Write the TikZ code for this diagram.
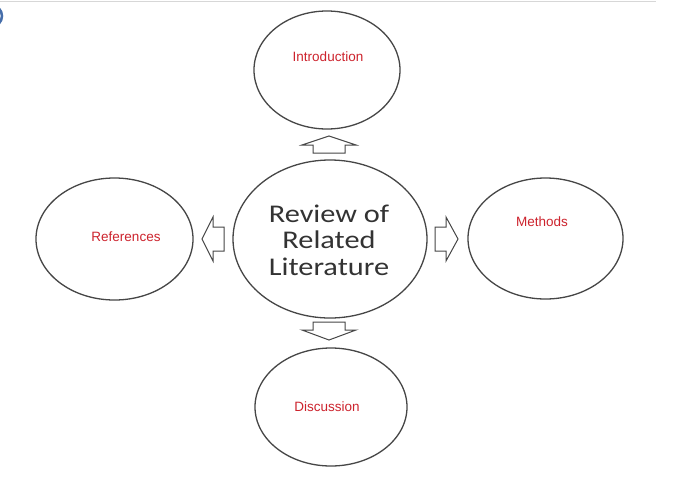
\documentclass[tikz,border=0pt]{standalone}
\usepackage{fontspec}
\setmainfont{Liberation Sans}
\newfontfamily\revfont[FakeStretch=1.19]{Carlito}
\usetikzlibrary{shapes.geometric}
\definecolor{linegray}{RGB}{70,70,70}
\definecolor{labelred}{RGB}{205,35,45}
\definecolor{edgeblue}{RGB}{70,110,170}
\definecolor{topgray}{RGB}{215,215,215}
\begin{document}
\begin{tikzpicture}[x=1pt,y=-1pt,
  bubble/.style={draw=linegray, line width=1.3pt, ellipse, inner sep=0pt},
  lab/.style={text=labelred, font=\fontsize{13.5}{16}\selectfont, inner sep=0pt},
  blockarrow/.style={draw=linegray, line width=1pt, fill=white, line join=miter}]
\useasboundingbox (0,0) rectangle (700,493);
\fill[white] (0,0) rectangle (700,493);
% top frame line and blue edge
\draw[topgray, line width=1pt] (0,1.5) -- (656,1.5);
\begin{scope}
\clip (0,0) rectangle (10,40);
\draw[edgeblue, line width=2.5pt] (-9,16) circle (11);
\end{scope}
% ellipses
\node[bubble, minimum width=194pt, minimum height=158pt] (center) at (330,239) {};
\node[bubble, minimum width=146pt, minimum height=118pt] (intro) at (327,70) {};
\node[bubble, minimum width=157pt, minimum height=122pt] (refs) at (114.5,239) {};
\node[bubble, minimum width=155pt, minimum height=121pt] (meth) at (545.5,238.5) {};
\node[bubble, minimum width=152pt, minimum height=118pt] (disc) at (331,407) {};
% texts
\node[align=center, font=\revfont\fontsize{25.5}{26.5}\selectfont, text=black!80, inner sep=0pt] (centertext) at (329,240) {Review of\\Related\\Literature};
\node[lab] (introtext) at (328,57) {Introduction};
\node[lab] (refstext) at (126,237) {References};
\node[lab] (methtext) at (542,222) {Methods};
\node[lab] (disctext) at (327,407) {Discussion};
% block arrows
\draw[blockarrow] (329,136) -- (356,145) -- (345,145) -- (345,153) -- (313,153) -- (313,145) -- (302,145) -- cycle;
\draw[blockarrow] (329,340) -- (356,330) -- (345,330) -- (345,322) -- (313,322) -- (313,330) -- (302,330) -- cycle;
\draw[blockarrow] (202,239) -- (213,217) -- (213,227) -- (224,227) -- (224,251) -- (213,251) -- (213,261) -- cycle;
\draw[blockarrow] (458,239) -- (446,217) -- (446,227) -- (435,227) -- (435,251) -- (446,251) -- (446,261) -- cycle;
\end{tikzpicture}
\end{document}
